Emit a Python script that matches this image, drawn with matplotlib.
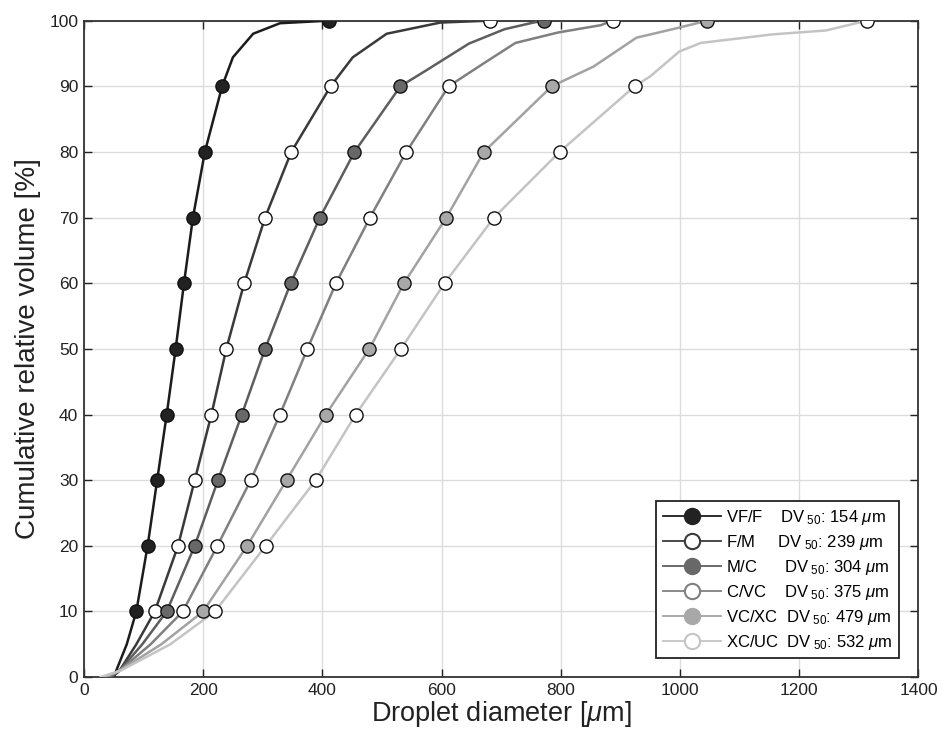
import matplotlib
matplotlib.use("Agg")
import matplotlib.pyplot as plt

plt.rcParams['font.family'] = ['Liberation Sans', 'DejaVu Sans']
plt.rcParams['mathtext.fontset'] = 'custom'
plt.rcParams['mathtext.rm'] = 'Liberation Sans'
plt.rcParams['mathtext.it'] = 'Liberation Sans:italic'

# marker levels (cumulative volume, %)
marker_pct = [10, 20, 30, 40, 50, 60, 70, 80, 90, 100]

# droplet diameter (um) at each marker level
vff_d  = [88, 107, 123, 139, 154, 168, 183, 203, 232, 412]
fm_d   = [119, 158, 186, 214, 239, 269, 304, 348, 414, 681]
mc_d   = [139, 186, 225, 265, 304, 347, 396, 454, 531, 772]
cvc_d  = [166, 224, 280, 329, 375, 423, 480, 541, 612, 887]
vcxc_d = [200, 274, 340, 406, 479, 537, 608, 671, 785, 1046]
xcuc_d = [220, 305, 389, 456, 532, 605, 688, 798, 924, 1314]

# extra points on the curves (toe and top tail)
vff_tail  = ([50, 72], [0, 5], [250, 284, 329], [94.4, 98.0, 99.6])
fm_tail   = ([48, 60, 88], [0, 1, 5], [451, 508, 598], [94.4, 98.0, 99.7])
mc_tail   = ([45, 60, 98], [0, 1, 5], [574, 646, 706, 754], [92.4, 96.5, 98.7, 99.7])
cvc_tail  = ([40, 60, 112], [0, 1, 5], [676, 724, 796, 867], [93.8, 96.6, 98.2, 99.3])
vcxc_tail = ([35, 60, 130], [0, 1, 5], [855, 927, 988], [93.0, 97.4, 98.7])
xcuc_tail = ([28, 62, 145], [0, 1, 5], [950, 999, 1035, 1155, 1245], [91.5, 95.3, 96.6, 97.9, 98.5])

names = ["VF/F", "F/M", "M/C", "C/VC", "VC/XC", "XC/UC"]
dv50 = [154, 239, 304, 375, 479, 532]
pads = ["    ", "     ", "      ", "    ", "  ", "  "]

series = [vff_d, fm_d, mc_d, cvc_d, vcxc_d, xcuc_d]
tails = [vff_tail, fm_tail, mc_tail, cvc_tail, vcxc_tail, xcuc_tail]
line_colors = ["#1c1c1c", "#3a3a3a", "#5e5e5e", "#808080", "#a2a2a2", "#c4c4c4"]
face_colors = ["#222222", "white", "#686868", "white", "#a8a8a8", "white"]

fig = plt.figure(figsize=(9.42, 7.36), dpi=100)
ax = fig.add_axes([0.089, 0.080, 0.886, 0.892])

for d, tail, lc, fc, nm, dv, pad in zip(series, tails, line_colors, face_colors, names, dv50, pads):
    lo_x, lo_y, hi_x, hi_y = tail
    xs = lo_x + d[:-1] + hi_x + d[-1:]
    ys = lo_y + marker_pct[:-1] + hi_y + marker_pct[-1:]
    ax.plot(xs, ys, color=lc, lw=1.8, zorder=3)
    ax.plot(d, marker_pct, linestyle='none', marker='o', ms=9.5,
            markerfacecolor=fc, markeredgecolor='#111111', markeredgewidth=1.0, zorder=5)
    # legend proxy
    ax.plot([], [], color=lc, lw=1.3, marker='o', ms=11, markerfacecolor=fc,
            markeredgecolor=lc if fc == "white" else fc, markeredgewidth=1.5,
            label=nm + pad + r"DV$_{\ 50}$: " + str(dv) + r" $\mathit{\mu}$m")

ax.set_xlim(0, 1400)
ax.set_ylim(0, 100)
ax.set_xticks(range(0, 1401, 200))
ax.set_yticks(range(0, 101, 10))
ax.grid(True, color='#dcdcdc', lw=1.0, zorder=0)
ax.tick_params(direction='in', length=6, width=1, labelsize=12.5, top=True, right=True,
               colors='#222222', pad=4)
for s in ax.spines.values():
    s.set_linewidth(1.3)
    s.set_color('#333333')

ax.set_xlabel(r"Droplet diameter [$\mathit{\mu}$m]", fontsize=19.5, labelpad=1, color='#222222')
ax.set_ylabel("Cumulative relative volume [%]", fontsize=20, labelpad=6, color='#222222')

leg = ax.legend(loc='lower right', bbox_to_anchor=(0.987, 0.016), fontsize=12,
                handlelength=3.5, handletextpad=0.3, labelspacing=0.36,
                borderpad=0.4, fancybox=False, framealpha=1)
leg.get_frame().set_edgecolor('#222222')
leg.get_frame().set_linewidth(1.3)

fig.savefig("out.png", dpi=100)
